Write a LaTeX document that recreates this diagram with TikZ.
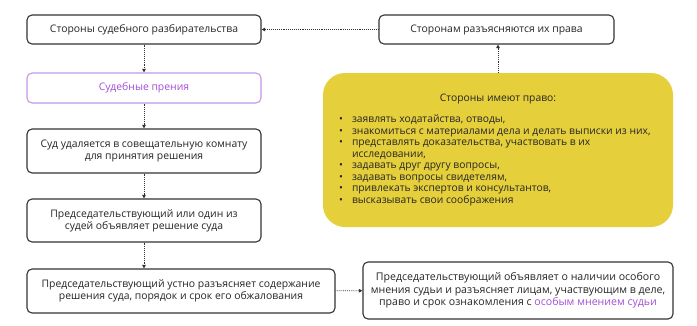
\documentclass[tikz,border=0pt]{standalone}
\usepackage{fontspec}
\setmainfont{Open Sans}
\usetikzlibrary{arrows.meta}
\definecolor{txt}{HTML}{262626}
\definecolor{edge}{HTML}{333333}
\definecolor{purp}{HTML}{A24FD6}
\definecolor{purpb}{HTML}{C596E6}
\definecolor{yel}{HTML}{E5CF3B}
\tikzset{
  box/.style={draw=edge, line width=1.1pt, rounded corners=5pt, fill=white, text=txt,
    align=center, font=\fontsize{10.4}{12.2}\selectfont, inner sep=2pt},
  pbox/.style={box, draw=purpb, text=purp},
  ybox/.style={fill=yel, rounded corners=22pt, text=txt, inner sep=0pt,
    minimum width=350pt, minimum height=154pt, font=\fontsize{10.3}{11.5}\selectfont},
  link/.style={draw=edge, line width=0.9pt, densely dotted,
    -{Triangle[length=3.5pt,width=3.5pt]}},
}
\newcommand{\bul}[1]{\par\hangindent=13pt\hangafter=1\noindent\makebox[13pt][l]{•}#1}
\begin{document}
\begin{tikzpicture}[x=1pt,y=-1pt]
\useasboundingbox (0,0) rectangle (697,325);
\node[box, minimum width=234pt, minimum height=29pt] (b1) at (144,29.5) {Стороны судебного разбирательства};
\node[pbox, minimum width=234pt, minimum height=30pt] (b2) at (144,88) {Судебные прения};
\node[box, minimum width=234pt, minimum height=44pt] (b3) at (144,151) {Суд удаляется в совещательную комнату\\для принятия решения};
\node[box, minimum width=234pt, minimum height=43pt] (b4) at (144,220.5) {Председательствующий или один из\\судей объявляет решение суда};
\node[box, minimum width=308pt, minimum height=44pt] (b5) at (181,291) {Председательствующий устно разъясняет содержание\\решения суда, порядок и срок его обжалования};
\node[box, minimum width=310pt, minimum height=57pt, font=\fontsize{10.6}{12.3}\selectfont] (b6) at (518,290.5) {Председательствующий объявляет о наличии особого\\мнения судьи и разъясняет лицам, участвующим в деле,\\право и срок ознакомления с \textcolor{purp}{особым мнением судьи}};
\node[box, minimum width=235pt, minimum height=29pt] (r1) at (496.5,29.5) {Сторонам разъясняются их права};
\node[ybox] (rights) at (498,150) {\begin{minipage}{318pt}
\centering Стороны имеют право:\par\vspace{10pt}\raggedright
\bul{заявлять ходатайства, отводы,}
\bul{знакомиться с материалами дела и делать выписки из них,}
\bul{представлять доказательства, участвовать в их\newline исследовании,}
\bul{задавать друг другу вопросы,}
\bul{задавать вопросы свидетелям,}
\bul{привлекать экспертов и консультантов,}
\bul{высказывать свои соображения}
\end{minipage}};
\draw[link] (b1) -- (b2);
\draw[link] (b2) -- (b3);
\draw[link] (b3) -- (b4);
\draw[link] (b4.south) -- (b4.south |- b5.north);
\draw[link] (b5) -- (b6);
\draw[link] (r1) -- (b1);
\draw[link] (rights.north) -- (rights.north |- r1.south);
\end{tikzpicture}
\end{document}
